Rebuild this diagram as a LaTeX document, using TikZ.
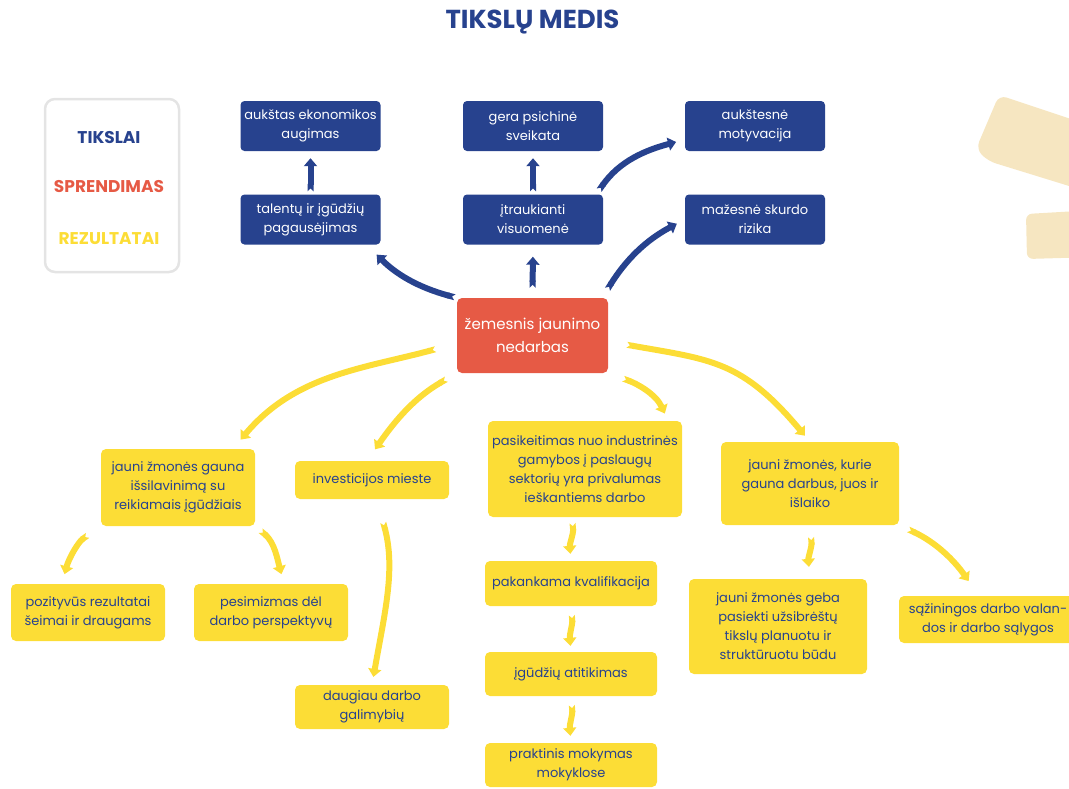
\documentclass[tikz,border=0pt]{standalone}
\usepackage{fontspec}
\setmainfont{Poppins}
\usetikzlibrary{arrows.meta}
\definecolor{goalblue}{RGB}{39,66,142}
\definecolor{solred}{RGB}{230,90,69}
\definecolor{resyellow}{RGB}{252,221,54}
\definecolor{sandcol}{RGB}{246,230,193}
\definecolor{legendgray}{RGB}{228,228,228}

\begin{document}
\begin{tikzpicture}[x=1pt, y=1pt,
  every node/.style={font=\fontsize{13}{19}\selectfont, align=center, inner sep=0pt},
  goalbox/.style={rectangle, rounded corners=4pt, fill=goalblue, text=white, minimum width=140pt, minimum height=50pt},
  solbox/.style={rectangle, rounded corners=5pt, fill=solred, text=white, minimum width=151pt, minimum height=75pt, font=\fontsize{15}{23}\selectfont},
  resbox/.style={rectangle, rounded corners=5pt, fill=resyellow, text=goalblue, minimum width=154pt},
  legendtext/.style={font=\fontsize{17}{20}\selectfont\bfseries},
  goalarrow/.style={draw=goalblue, line width=6pt, {Triangle Cap[reversed]}-{Triangle[length=8pt,width=13pt]}},
  resarrow/.style={goalarrow, draw=resyellow}]
  \useasboundingbox (0,0) rectangle (1069,-788);

  % sand shapes at the right edge
  \fill[sandcol, rounded corners=8pt] (999,-95) -- (1095,-127) -- (1095,-194) -- (988,-161) -- (976,-149) -- cycle;
  \fill[sandcol, rounded corners=6pt] (1026,-214) -- (1095,-210) -- (1095,-257) -- (1027,-259) -- cycle;

  \node[font=\fontsize{26}{30}\selectfont\bfseries, text=goalblue] (title) at (532.5,-22) {TIKSLŲ MEDIS};

  % legend
  \node[draw=legendgray, line width=2.5pt, rounded corners=10pt, minimum width=134pt, minimum height=173pt] (legend) at (112,-185.5) {};
  \node[legendtext, text=goalblue] (lgoal) at (109,-138) {TIKSLAI};
  \node[legendtext, text=solred] (lsol) at (109,-187) {SPRENDIMAS};
  \node[legendtext, text=resyellow] (lres) at (109,-239) {REZULTATAI};

  % goals
  \node[goalbox] (ekon) at (310.5,-126) {aukštas ekonomikos\\augimas};
  \node[goalbox] (talent) at (310.5,-219.5) {talentų ir įgūdžių\\pagausėjimas};
  \node[goalbox] (sveik) at (533,-126) {gera psichinė\\sveikata};
  \node[goalbox] (visuom) at (533,-219.5) {įtraukianti\\visuomenė};
  \node[goalbox] (motyv) at (755,-126) {aukštesnė\\motyvacija};
  \node[goalbox] (skurd) at (755,-219.5) {mažesnė skurdo\\rizika};

  % solution
  \node[solbox] (nedarb) at (532.5,-335.5) {žemesnis jaunimo\\nedarbas};

  % results
  \node[resbox, minimum height=77pt] (islav) at (178,-487.5) {jauni žmonės gauna\\išsilavinimą su\\reikiamais įgūdžiais};
  \node[resbox, minimum height=38pt] (invest) at (372,-480) {investicijos mieste};
  \node[resbox, minimum height=57pt] (pozit) at (88,-612.5) {pozityvūs rezultatai\\šeimai ir draugams};
  \node[resbox, minimum height=57pt] (pesim) at (271,-612.5) {pesimizmas dėl\\darbo perspektyvų};
  \node[resbox, minimum height=44pt] (daug) at (372,-707) {daugiau darbo\\galimybių};
  \node[resbox, minimum width=194pt, minimum height=96pt] (pasik) at (585,-469) {pasikeitimas nuo industrinės\\gamybos į paslaugų\\sektorių yra privalumas\\ieškantiems darbo};
  \node[resbox, minimum width=172pt, minimum height=45pt] (pakank) at (571,-583.5) {pakankama kvalifikacija};
  \node[resbox, minimum width=172pt, minimum height=44pt] (atitik) at (571,-674) {įgūdžių atitikimas};
  \node[resbox, minimum width=172pt, minimum height=44pt] (prakt) at (571,-765) {praktinis mokymas\\mokyklose};
  \node[resbox, minimum width=178pt, minimum height=83pt] (islaik) at (810,-483.5) {jauni žmonės, kurie\\gauna darbus, juos ir\\išlaiko};
  \node[resbox, minimum width=178pt, minimum height=95pt] (geba) at (778,-626.5) {jauni žmonės geba\\pasiekti užsibrėštų\\tikslų planuotu ir\\struktūruotu būdu};
  \node[resbox, minimum width=178pt, minimum height=47pt] (sazin) at (988,-619.5) {sąžiningos darbo valan-\\dos ir darbo sąlygos};

  % goal arrows
  \draw[goalarrow, shorten <=3pt, shorten >=7pt] (talent.north) -- (ekon.south);
  \draw[goalarrow, shorten <=3pt, shorten >=7pt] (visuom.north) -- (sveik.south);
  \draw[goalarrow, shorten <=10pt, shorten >=12pt] (nedarb.north) -- (visuom.south);
  \draw[goalarrow, shorten <=2pt, shorten >=14pt] (nedarb.north west) to[out=165, in=-45] ([xshift=-14pt]talent.south east);
  \draw[goalarrow, shorten <=10pt, shorten >=9pt] ([xshift=-6pt]nedarb.north east) to[out=58, in=208] (skurd.west);
  \draw[goalarrow, shorten <=5pt, shorten >=9pt] ([xshift=-7pt]visuom.north east) to[out=55, in=195] (motyv.191);

  % result arrows
  \draw[resarrow, shorten <=22pt, shorten >=12pt] ([yshift=-8pt]nedarb.west) to[out=195, in=50] ([xshift=55pt]islav.north);
  \draw[resarrow, shorten <=12pt, shorten >=14pt] (nedarb.south west) to[out=210, in=55] ([xshift=-5pt]invest.north);
  \draw[resarrow, shorten <=16pt, shorten >=8pt] (nedarb.south east) to[out=-20, in=115] ([xshift=-14pt]pasik.north east);
  \draw[resarrow, shorten <=19pt, shorten >=8pt] ([yshift=-6pt]nedarb.east) to[out=-10, in=130, looseness=1.2] (islaik.north);
  \draw[resarrow, shorten <=16pt, shorten >=10pt] (islav.south west) to[out=215, in=75] ([xshift=-26pt]pozit.north);
  \draw[resarrow, shorten <=7pt, shorten >=10pt] (islav.south east) to[out=-40, in=105] ([xshift=13pt]pesim.north);
  \draw[resarrow, shorten <=24pt, shorten >=8pt] ([xshift=5pt]invest.south) to[out=-75, in=80] (daug.north);
  \draw[resarrow, shorten <=6pt, shorten >=7pt] ([xshift=-13pt]pasik.south) to[out=-85, in=95] (pakank.north);
  \draw[resarrow, shorten <=9pt, shorten >=6pt] (pakank.south) to[out=-85, in=95] (atitik.north);
  \draw[resarrow, shorten <=9pt, shorten >=7pt] (atitik.south) to[out=-85, in=95] (prakt.north);
  \draw[resarrow, shorten <=12pt, shorten >=12pt] (islaik.south) to[out=-85, in=95] ([xshift=32pt]geba.north);
  \draw[resarrow, shorten <=10pt, shorten >=18pt] (islaik.south east) to[out=-25, in=125] ([xshift=-9pt]sazin.north);
\end{tikzpicture}
\end{document}
